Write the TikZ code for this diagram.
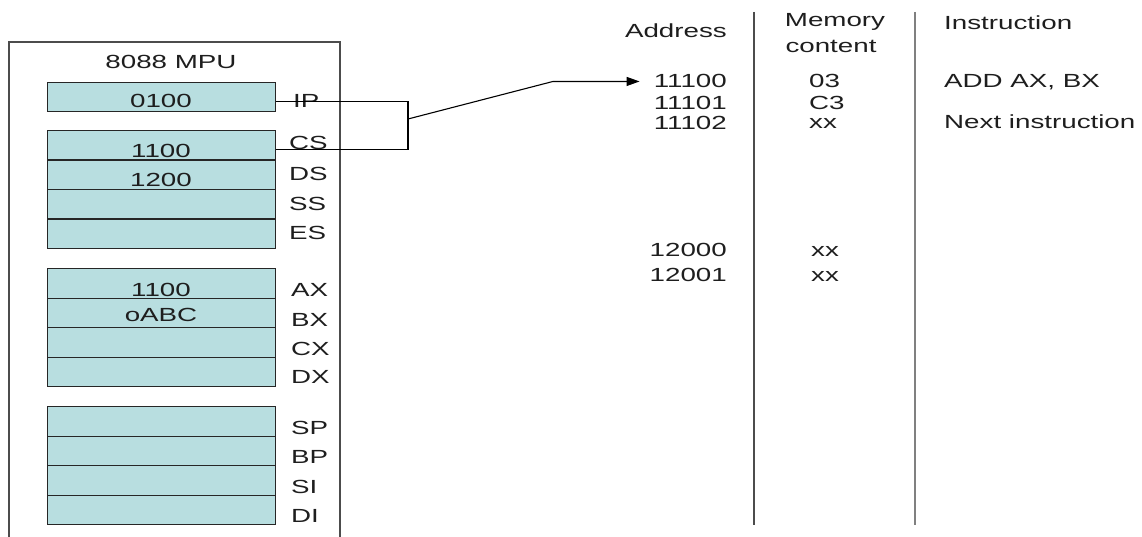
\documentclass[tikz,border=0pt]{standalone}
\usepackage{fontspec}
\setmainfont{Liberation Sans}[FakeStretch=1.46]
\usetikzlibrary{arrows.meta}
\definecolor{regfill}{RGB}{184,222,224}
\definecolor{ink}{RGB}{30,30,30}
\begin{document}
\begin{tikzpicture}[x=1pt,y=-1pt,
  every node/.style={inner sep=0pt, text=ink, font=\fontsize{19}{23}\selectfont},
  reg/.style={draw=black!85, line width=1.2pt, fill=regfill, minimum width=228pt, minimum height=29.5pt, anchor=north west},
  txt/.style={anchor=base},
  lbl/.style={anchor=base west},
  adr/.style={anchor=base east},
  wire/.style={line width=1.1pt, black},
  sep/.style={line width=2pt}]
\useasboundingbox (0,0) rectangle (1142,537);
% outer MPU box
\draw[line width=1.3pt, black!70] (9,537) -- (9,42) -- (340,42) -- (340,537);
\node[txt] (mpu) at (171,69) {8088 MPU};
% IP
\node[reg, minimum height=29pt] (ip) at (47,82) {};
\node[txt] (ipv) at (161,108) {0100};
\node[lbl] (ipl) at (293,108) {IP};
% segment registers
\node[reg] (cs) at (47,130) {};
\node[reg] (ds) at (47,159.5) {};
\node[reg] (ss) at (47,189) {};
\node[reg] (es) at (47,218.5) {};
\node[txt] (csv) at (161,158) {1100};
\node[txt] (dsv) at (161,187) {1200};
\node[lbl] (csl) at (289,150) {CS};
\node[lbl] (dsl) at (289,181) {DS};
\node[lbl] (ssl) at (289,210.5) {SS};
\node[lbl] (esl) at (289,239.5) {ES};
% general registers
\node[reg] (ax) at (47,268) {};
\node[reg] (bx) at (47,297.5) {};
\node[reg] (cx) at (47,327) {};
\node[reg] (dx) at (47,356.5) {};
\node[txt] (axv) at (161,296) {1100};
\node[txt] (bxv) at (161,321) {oABC};
\node[lbl] (axl) at (291,296) {AX};
\node[lbl] (bxl) at (291,326) {BX};
\node[lbl] (cxl) at (291,355) {CX};
\node[lbl] (dxl) at (291,383.5) {DX};
% pointer / index registers
\node[reg] (sp) at (47,406) {};
\node[reg] (bp) at (47,435.5) {};
\node[reg] (si) at (47,465) {};
\node[reg] (di) at (47,494.5) {};
\node[lbl] (spl) at (291,434) {SP};
\node[lbl] (bpl) at (291,463) {BP};
\node[lbl] (sil) at (291,493) {SI};
\node[lbl] (dil) at (291,522) {DI};
% memory table
\draw[sep, black!70] (754,12) -- (754,525);
\draw[sep, black!50] (915,12) -- (915,525);
\node[adr] (hadr) at (727,38) {Address};
\node[txt] (hmem1) at (835,27) {Memory};
\node[txt] (hmem2) at (831,53) {content};
\node[lbl] (hins) at (944,30) {Instruction};
\node[adr] (a1) at (727,88) {11100};
\node[adr] (a2) at (727,110) {11101};
\node[adr] (a3) at (727,130) {11102};
\node[adr] (a4) at (727,257) {12000};
\node[adr] (a5) at (727,281.5) {12001};
\node[lbl] (m1) at (809,88) {03};
\node[lbl] (m2) at (809,110) {C3};
\node[lbl] (m3) at (809,129) {xx};
\node[lbl] (m4) at (811,256) {xx};
\node[lbl] (m5) at (811,281) {xx};
\node[lbl] (i1) at (944,88) {ADD AX, BX};
\node[lbl] (i3) at (944,129) {Next instruction};
% connectors
\coordinate (j) at (408,119);
\draw[wire] ([yshift=-4.5pt]ip.east) -| (j) |- ([yshift=-4pt]cs.east);
\draw[wire, -{Triangle[length=13pt,width=9pt]}] (j) -- (553,0 |- a1.west) -- ([xshift=-14pt]a1.west);
\end{tikzpicture}
\end{document}
